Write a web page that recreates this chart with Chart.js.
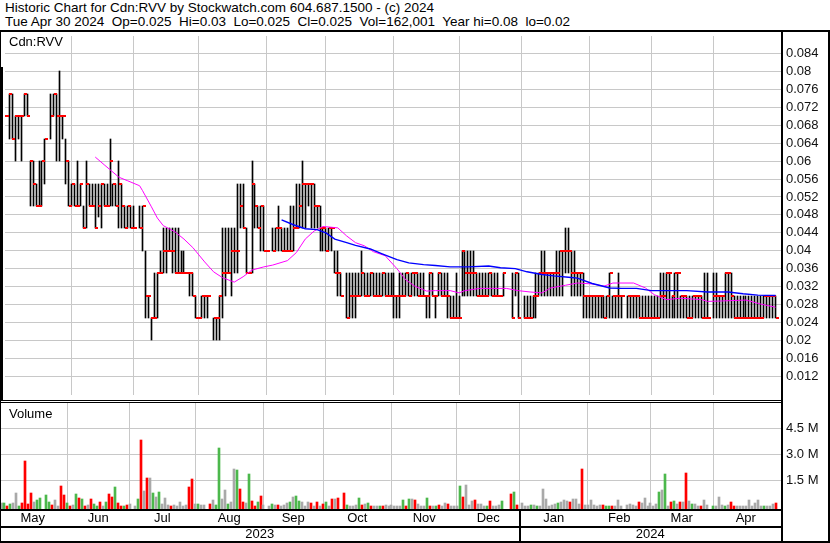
<!DOCTYPE html>
<html><head><meta charset="utf-8">
<script src="https://cdn.jsdelivr.net/npm/chart.js@4.4.1/dist/chart.umd.min.js"></script>
<style>
html,body{margin:0;padding:0;background:#fff;}
#wrap{position:relative;width:830px;height:543px;overflow:hidden;background:#fff;font-family:"Liberation Sans",Arial,sans-serif;color:#000;}
.t{position:absolute;left:5px;font-size:13.5px;line-height:14px;white-space:pre;}
.lbl{position:absolute;font-size:13px;line-height:14px;white-space:pre;}
canvas{position:absolute;left:0;}
.ln{position:absolute;background:#000;}
</style></head><body>
<div id="wrap">
<canvas id="pc" width="830" height="369" style="top:31px;width:830px;height:369px"></canvas>
<canvas id="vc" width="830" height="143" style="top:400px;width:830px;height:143px"></canvas>
<div class="t" style="top:1px">Historic Chart for Cdn:RVV by Stockwatch.com 604.687.1500 - (c) 2024</div>
<div class="t" style="top:15px">Tue Apr 30 2024  Op=0.025  Hi=0.03  Lo=0.025  Cl=0.025  Vol=162,001  Year hi=0.08  lo=0.02</div>
<div class="lbl" style="left:9px;top:35px">Cdn:RVV</div>
<div class="lbl" style="left:9px;top:407px">Volume</div>
<div class="ln" style="left:0;top:30px;width:830px;height:2px"></div>
<div class="ln" style="left:0;top:30px;width:1px;height:513px"></div>
<div class="ln" style="left:0;top:67px;width:3px;height:333px"></div>
<div class="ln" style="left:828px;top:30px;width:2px;height:513px"></div>
<div class="ln" style="left:781px;top:30px;width:2px;height:513px"></div>
<div class="ln" style="left:0;top:400px;width:782px;height:1px"></div>
<div class="ln" style="left:0;top:402px;width:782px;height:1px"></div>
<div class="ln" style="left:0;top:509px;width:782px;height:2px"></div>
<div class="ln" style="left:0;top:526px;width:782px;height:2px"></div>
<div class="ln" style="left:0;top:541px;width:830px;height:2px"></div>
</div>
<script>
// ---- data (one entry per weekday, 2023-05-01 .. 2024-04-30; null = market closed) ----
const hi = [
.075,.07,.075,.075,.07,.07,.07,.075,.075,.06,
.06,.055,.06,.06,.065,null,.075,.075,.075,.08,
.07,.065,.06,.055,.055,.06,.055,.05,.06,.055,
.055,.055,.055,.055,.055,.055,.065,.055,.055,.06,
.055,.05,.05,.05,.05,null,.05,.05,.04,.03,
.025,.035,.035,.04,.045,.045,.045,.045,.045,.045,
.04,.04,.035,.035,.035,.03,.025,.03,.03,.03,
null,.025,.025,.03,.045,.045,.045,.045,.045,.055,
.055,.055,.045,.035,.06,.055,.05,.05,.05,.04,
null,.045,.045,.05,.045,.045,.045,.05,.05,.055,
.055,.06,.055,.055,.055,.055,.05,.05,.045,.045,
.045,.045,.04,.04,.035,null,.035,.035,.035,.035,
.035,.04,.035,.035,.035,.035,.035,.035,.035,.035,
.035,.035,.035,.03,.035,.035,.035,.035,.035,.035,
.035,.035,.035,.03,.035,.035,.03,.035,.035,.035,
.035,.03,.03,.035,.03,.04,.04,.04,.04,.04,
.035,.035,.035,.035,.035,.035,.035,.035,.03,.035,
null,null,.035,.035,.035,null,.03,.03,.03,.03,
.035,.035,.04,.04,.035,.035,.035,.04,.04,.04,
.045,.045,.04,.04,.035,.035,.035,.03,.03,.03,
.03,.03,.03,.03,.03,.035,.03,.03,.035,.03,
null,.03,.03,.03,.03,.03,.03,.03,.03,.03,
.03,.03,.035,.035,.035,.035,.03,.035,.035,.03,
.03,.03,.03,.03,.03,.03,.03,.035,.035,null,
.035,.035,.03,.03,.035,.035,.035,.03,.03,.03,
.03,.03,.03,.03,.03,.03,.03,.03,.03,.03,
.03,.03];
const lo = [
.065,.07,.065,.065,.06,.065,.06,.07,.07,.05,
.05,.05,.05,.05,.055,null,.065,.07,.06,.06,
.065,.055,.05,.05,.05,.05,.05,.045,.045,.05,
.05,.045,.0475,.045,.05,.05,.05,.05,.05,.045,
.045,.045,.045,.045,.045,null,.045,.04,.025,.025,
.02,.025,.025,.035,.035,.035,.04,.035,.035,.035,
.035,.035,.035,.03,.03,.025,.025,.025,.025,.025,
null,.02,.02,.02,.025,.03,.035,.03,.035,.035,
.045,.045,.035,.035,.035,.045,.045,.04,.04,.04,
null,.04,.04,.04,.04,.04,.04,.04,.04,.045,
.045,.045,.045,.05,.045,.045,.045,.04,.04,.04,
.04,.04,.035,.03,.03,null,.025,.025,.025,.025,
.03,.03,.03,.03,.03,.03,.03,.03,.03,.03,
.03,.03,.025,.025,.025,.03,.03,.03,.03,.03,
.03,.03,.03,.025,.025,.03,.025,.03,.03,.03,
.025,.025,.025,.025,.025,.03,.03,.03,.03,.03,
.03,.03,.03,.03,.03,.03,.03,.03,.03,.03,
null,null,.025,.03,.025,null,.025,.025,.025,.025,
.025,.03,.03,.03,.03,.03,.03,.03,.03,.03,
.035,.035,.03,.03,.03,.03,.025,.025,.025,.025,
.025,.025,.025,.025,.025,.025,.025,.025,.025,.025,
null,.025,.025,.025,.025,.025,.025,.025,.025,.025,
.025,.025,.025,.025,.025,.025,.025,.025,.025,.025,
.025,.025,.025,.025,.025,.025,.025,.025,.025,null,
.025,.025,.025,.025,.025,.025,.025,.025,.025,.025,
.025,.025,.025,.025,.025,.025,.025,.025,.025,.025,
.025,.025];
const cl = [
.07,.07,.075,.065,.07,.07,.07,.075,.07,.06,
.055,.05,.05,.06,.065,null,.07,.075,.07,.07,
.07,.06,.05,.055,.05,.05,.055,.045,.055,.05,
.05,.045,.05,.055,.05,.05,.06,.055,.05,.055,
.05,.045,.05,.045,.045,null,.045,.05,.03,.03,
.025,.025,.035,.035,.04,.04,.04,.04,.035,.035,
.035,.035,.035,.035,.03,.025,.025,.03,.03,.03,
null,.025,.025,.03,.035,.035,.035,.04,.04,.04,
.05,.045,.035,.035,.055,.05,.045,.05,.04,.04,
null,.04,.045,.045,.04,.04,.04,.04,.045,.045,
.05,.055,.055,.055,.055,.05,.05,.045,.045,.04,
.045,.045,.035,.035,.03,null,.025,.03,.03,.03,
.03,.035,.03,.03,.035,.03,.03,.03,.035,.03,
.03,.03,.03,.03,.03,.03,.035,.03,.035,.035,
.03,.03,.03,.03,.035,.03,.03,.035,.03,.03,
.03,.025,.025,.025,.025,.04,.035,.035,.035,.035,
.03,.03,.03,.03,.035,.03,.03,.03,.03,.035,
null,null,.025,.035,.025,null,.025,.025,.025,.03,
.03,.035,.035,.035,.035,.035,.035,.035,.04,.04,
.04,.04,.035,.035,.035,.035,.03,.03,.03,.03,
.03,.03,.03,.025,.03,.035,.03,.03,.03,.03,
null,.03,.03,.03,.03,.025,.025,.025,.025,.025,
.025,.025,.03,.03,.035,.035,.03,.035,.035,.03,
.03,.025,.025,.03,.03,.03,.025,.025,.025,null,
.03,.03,.03,.03,.035,.035,.03,.025,.025,.025,
.025,.025,.025,.025,.025,.025,.025,.03,.03,.03,
.03,.025];
const volM = [
.10,.17,.17,.02,.11,.17,.75,.02,.17,2.61,
.11,.75,.23,.34,.46,null,.65,.23,.08,.34,
.02,1.17,.65,.17,.02,.08,.69,.46,.40,.02,
.08,.40,.11,.02,.23,.02,.27,.69,.54,1.11,
.17,.02,.02,.08,.11,null,.02,.40,3.82,.86,
1.61,1.61,.75,.52,.80,.11,.46,.06,.02,.06,
.02,.23,.02,.06,1.11,1.56,.11,.11,.06,.06,
null,.13,.34,.06,3.36,.40,.94,.11,.23,2.15,
2.07,1.00,.23,.17,1.86,.29,.02,.23,.58,.06,
null,.02,.11,.08,.08,.02,.08,.17,.23,.52,
.61,.29,.23,.02,.23,.17,.02,.23,.02,.11,
.23,.02,.40,.40,.46,null,.75,.06,.02,.02,
.06,.46,.06,.11,.17,.02,.02,.02,.02,.02,
.06,.02,.06,.02,.02,.02,.34,.02,.40,.40,
.34,.11,.02,.02,.46,.02,.02,.02,.06,.02,
.17,.11,.02,.02,.02,1.17,.54,1.22,.06,.31,
.34,.11,.11,.02,.02,.31,.02,.02,.06,.31,
null,null,.71,.80,.08,null,.17,.02,.02,.06,
.06,.02,.02,1.00,.40,.02,.08,.11,.17,.23,
.34,.29,.23,.40,.40,.13,2.15,.06,.06,.34,
.06,.02,.06,.06,.02,.02,.02,.02,.34,.02,
null,.06,.11,.06,.02,.23,.17,.46,.02,.17,
.02,.13,.80,.92,1.86,.02,.27,.31,.11,.27,
.23,1.92,.31,.11,.13,.02,.02,.34,.06,null,
.02,.02,.56,.06,.02,.06,.25,.02,.02,.02,
.02,.02,.34,.02,.17,.34,.02,.02,.02,.02,
.13,.162];
// moving averages (day index, value)
const pinkDay = [31,34,39,42,46,47,50,52,54,58,61,64,68,71,74,78,81,84,88,91,96,99,102,105,108,110,113,116,119,122,125,129,133,136,139,143,146,151,154,156,161,165,170,174,178,182,185,190,194,199,203,206,213,217,220,224,229,236,238,243,251,256,261];
const pinkVal = [.0609,.0592,.0564,.0556,.0545,.0534,.0498,.0473,.0456,.0442,.0426,.0407,.0375,.0353,.0340,.0330,.0342,.0357,.0364,.0368,.0378,.0396,.0426,.0444,.0454,.0453,.0451,.0433,.0418,.0411,.0398,.0389,.0360,.0335,.0321,.0310,.0311,.0311,.0306,.0311,.0316,.0316,.0316,.0311,.0308,.0306,.0317,.0323,.0328,.0326,.0321,.0328,.0328,.0317,.0302,.0291,.0294,.0291,.0287,.0288,.0290,.0281,.0274];
const blueDay = [94,98,102,106,109,112,116,119,124,128,133,137,142,146,151,157,164,168,173,177,182,186,191,194,199,205,209,214,219,231,238,245,250,255,261];
const blueVal = [.0469,.0458,.0449,.0447,.0440,.0426,.0418,.0412,.0404,.0393,.0380,.0373,.0369,.0367,.0364,.0364,.0366,.0362,.0360,.0353,.0347,.0344,.0341,.0339,.0327,.0317,.0316,.0316,.0311,.0311,.0308,.0308,.0304,.0301,.0300];
const priceTicks = [0.084,0.08,0.076,0.072,0.068,0.064,0.06,0.056,0.052,0.048,0.044,0.04,0.036,0.032,0.028,0.024,0.02,0.016,0.012];
const volTicks = [1.5,3.0,4.5];
const monthNames = ['May','Jun','Jul','Aug','Sep','Oct','Nov','Dec','Jan','Feb','Mar','Apr'];
const yearNames = ['2023','2024'];

// ---- calendar ----
const dates = [];
for (let d = new Date(Date.UTC(2023,4,1)); d <= new Date(Date.UTC(2024,3,30)); d.setUTCDate(d.getUTCDate()+1)) {
  const w = d.getUTCDay(); if (w > 0 && w < 6) dates.push(new Date(d));
}
const N = dates.length;
const monthStart = monthNames.map((n,k) => {
  const first = Date.UTC(2023, 4+k, 1); let idx = 0;
  dates.forEach((d,j) => { if (d.getTime() <= first) idx = j; });
  return idx;
});
const monthMid = monthStart.map((s,k) => (s + (k < 11 ? monthStart[k+1] : N)) / 2);

// ---- layout constants ----
const X_MIN = 0.494, X_MAX = 262.84;
const P_MIN = 0.007818, P_MAX = 0.087907;
const V_MIN = -0.1558, V_MAX = 6.017;
const GRID = '#c8c8c8';
Chart.defaults.font = {family: "'Liberation Sans', Arial, sans-serif", size: 13};
Chart.defaults.color = '#000';

const gridSet = new Set(monthStart.filter(v => v >= X_MIN));
const labelMap = new Map(monthMid.map((v,k) => [v, monthNames[k]]));
const xTickVals = [...gridSet, ...monthMid].sort((a,b) => a-b);
const yearB = monthStart[8];
const yearMid = [(X_MIN + yearB)/2, (yearB + X_MAX)/2];
const yearMap = new Map(yearMid.map((v,k) => [v, yearNames[k]]));

const noPadX = s => { s.paddingLeft = 0; s.paddingRight = 0; };
const noPadY = s => { s.paddingTop = 0; s.paddingBottom = 0; };

function monthAxis(showLabels) {
  return {
    type: 'linear', position: 'bottom', min: X_MIN, max: X_MAX, bounds: 'data', offset: false,
    afterBuildTicks: s => { s.ticks = xTickVals.map(v => ({value: v})); },
    afterFit: s => { s.height = showLabels ? 17 : 0; noPadX(s); },
    grid: { offset: false, drawTicks: false, lineWidth: 1,
            color: c => (c.tick && gridSet.has(c.tick.value)) ? GRID : 'rgba(0,0,0,0)' },
    border: { display: false },
    ticks: { display: showLabels, autoSkip: false, maxRotation: 0, padding: 2,
             callback: v => labelMap.get(v) || '' }
  };
}

// pixel-snap elements so thin marks stay crisp
const snap = {
  id: 'snap',
  afterDatasetsUpdate(chart) {
    chart.data.datasets.forEach((ds, di) => {
      const meta = chart.getDatasetMeta(di);
      if (meta.type === 'bar') {
        const w = ds.barThickness;
        meta.data.forEach(el => {
          el.x = (w % 2) ? Math.floor(el.x) + 0.5 : Math.round(el.x);
          el.y = Math.round(el.y); el.base = Math.round(el.base); el.width = w;
        });
      } else if (ds.pointStyle instanceof HTMLCanvasElement) {
        meta.data.forEach(el => { el.x = Math.round(el.x); el.y = Math.round(el.y); });
      }
    });
  }
};

// ---- price chart ----
const days = dates.map((d,i) => i);
const barData = [], closeData = [];
days.forEach(i => {
  if (hi[i] == null) return;
  barData.push({x: i, y: [lo[i], hi[i]]});
  closeData.push({x: i, y: cl[i]});
});
const tickImg = document.createElement('canvas');
tickImg.width = 6; tickImg.height = 2;
const tctx = tickImg.getContext('2d'); tctx.fillStyle = '#ff0000'; tctx.fillRect(3, 0, 3, 2);

new Chart(document.getElementById('pc'), {
  type: 'bar',
  data: { datasets: [
    { type: 'line', data: pinkDay.map((d,k) => ({x: d, y: pinkVal[k]})), borderColor: '#ff00ff', borderWidth: 1, pointRadius: 0, tension: 0, order: 1 },
    { type: 'line', data: blueDay.map((d,k) => ({x: d, y: blueVal[k]})), borderColor: '#0000ff', borderWidth: 1.4, pointRadius: 0, tension: 0, order: 0 },
    { type: 'line', data: closeData, showLine: false, pointStyle: tickImg, pointRadius: 3, order: 2 },
    { type: 'bar', data: barData, backgroundColor: '#000', barThickness: 1, borderWidth: 0, borderSkipped: false, order: 3 }
  ]},
  options: {
    responsive: false, animation: false, events: [],
    layout: { padding: 0 },
    plugins: { legend: { display: false }, tooltip: { enabled: false } },
    scales: {
      x: monthAxis(false),
      y: { type: 'linear', position: 'right', min: P_MIN, max: P_MAX, bounds: 'data',
           afterBuildTicks: s => { s.ticks = priceTicks.map(v => ({value: v})); },
           afterFit: s => { s.width = 49; noPadY(s); },
           grid: { color: GRID, drawTicks: false, lineWidth: 1 },
           border: { display: false },
           ticks: { padding: 5, color: '#111', callback: v => String(+v.toFixed(3)) } }
    }
  },
  plugins: [snap]
});

// ---- volume chart ----
const volData = [], volColors = [];
let prev = null;
days.forEach(i => {
  if (volM[i] == null) return;
  volData.push({x: i, y: volM[i]});
  const c = cl[i];
  volColors.push(prev == null || c === prev ? '#a9a9a9' : (c > prev ? '#4cb84c' : '#ff0000'));
  prev = c;
});
const yearSep = {
  id: 'yearSep',
  afterDraw(chart) {
    const x = chart.scales.x.getPixelForValue(yearB);
    const ctx = chart.ctx; ctx.save(); ctx.fillStyle = '#000';
    ctx.fillRect(Math.round(x) - 1, chart.chartArea.bottom, 2, chart.height - chart.chartArea.bottom);
    ctx.restore();
  }
};
new Chart(document.getElementById('vc'), {
  type: 'bar',
  data: { datasets: [
    { data: volData, backgroundColor: volColors, barThickness: 2, borderWidth: 0, base: V_MIN }
  ]},
  options: {
    responsive: false, animation: false, events: [],
    layout: { padding: { top: 2, left: 0, right: 0, bottom: 0 } },
    plugins: { legend: { display: false }, tooltip: { enabled: false } },
    scales: {
      x: Object.assign(monthAxis(true), { weight: 0 }),
      x2: { type: 'linear', position: 'bottom', weight: 1, min: X_MIN, max: X_MAX, bounds: 'data', offset: false,
            afterBuildTicks: s => { s.ticks = yearMid.map(v => ({value: v})); },
            afterFit: s => { s.height = 17; noPadX(s); },
            grid: { display: false, drawTicks: false }, border: { display: false },
            ticks: { autoSkip: false, maxRotation: 0, padding: 1, callback: v => yearMap.get(v) || '' } },
      y: { type: 'linear', position: 'right', min: V_MIN, max: V_MAX, bounds: 'data',
           afterBuildTicks: s => { s.ticks = volTicks.map(v => ({value: v})); },
           afterFit: s => { s.width = 49; noPadY(s); },
           grid: { color: GRID, drawTicks: false, lineWidth: 1 },
           border: { display: false },
           ticks: { padding: 5, color: '#111', callback: v => v.toFixed(1) + ' M' } }
    }
  },
  plugins: [snap, yearSep]
});
</script>
</body></html>
